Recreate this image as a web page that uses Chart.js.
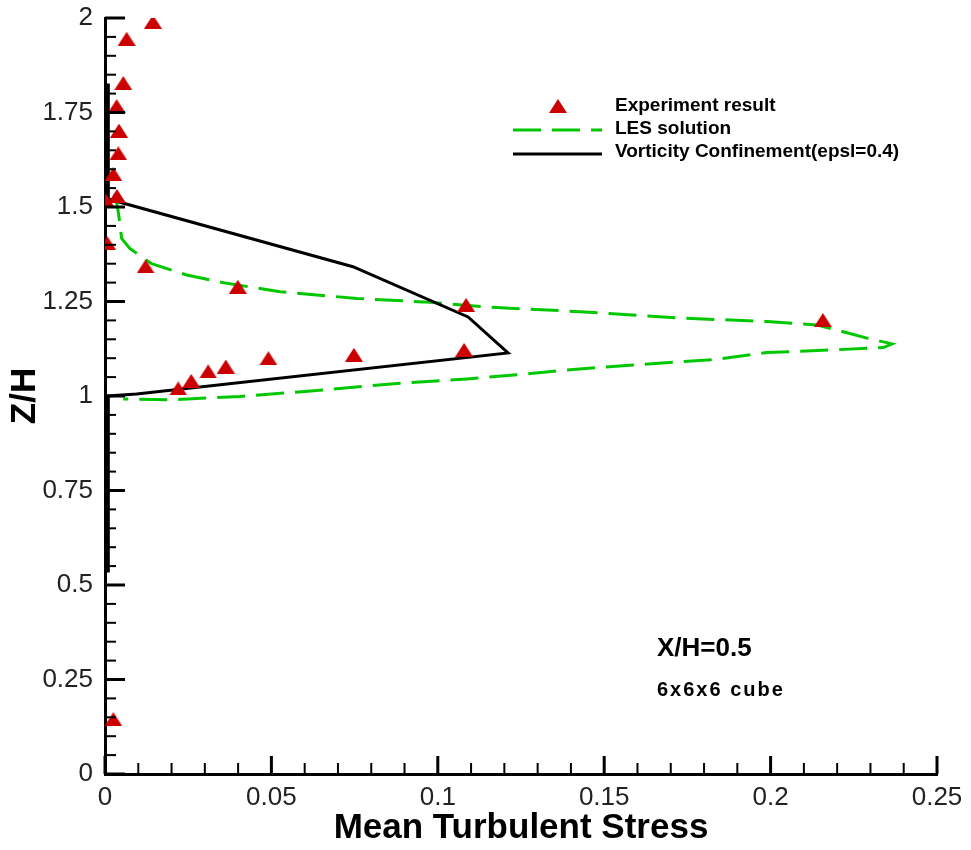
<!DOCTYPE html>
<html lang="en">
<head>
  <meta charset="utf-8">
  <script src="https://cdn.jsdelivr.net/npm/chart.js@4.4.1/dist/chart.umd.min.js"></script>
  <style>
    body {
      margin: 0;
      background: #fff;
    }

    #chart-container {
      width: 971px;
      height: 850px;
    }
  </style>
</head>
<body>
  <div id="chart-container">
    <canvas id="chart" width="971" height="850"></canvas>
  </div>

  <script>
    // experiment result (red triangles)
    const expStress = [0.0144, 0.0065, 0.0055, 0.0035, 0.0042, 0.0040, 0.0025, 0.0036, 0.0003, 0.0007,
      0.0122, 0.0399, 0.1085, 0.2157, 0.1079, 0.0748, 0.0491, 0.0363, 0.0310, 0.0259, 0.0220, 0.0025];
    const expZ = [1.990, 1.945, 1.828, 1.767, 1.702, 1.642, 1.587, 1.529, 1.516, 1.404,
      1.343, 1.289, 1.241, 1.201, 1.122, 1.109, 1.100, 1.078, 1.065, 1.040, 1.020, 0.145];

    // LES solution (green dashes)
    const lesStress = [0.003, 0.004, 0.005, 0.0075, 0.014, 0.0246, 0.0366, 0.0526, 0.0757, 0.0957,
      0.1157, 0.1428, 0.1737, 0.1989, 0.214, 0.2218, 0.229, 0.2365, 0.2339, 0.2189,
      0.1989, 0.1839, 0.1587, 0.1388, 0.1237, 0.1087, 0.0887, 0.0656, 0.0406, 0.0205, 0.0055];
    const lesZ = [1.536, 1.487, 1.417, 1.390, 1.350, 1.320, 1.298, 1.276, 1.258, 1.249,
      1.235, 1.223, 1.206, 1.197, 1.188, 1.170, 1.153, 1.138, 1.128, 1.122,
      1.115, 1.097, 1.082, 1.069, 1.056, 1.045, 1.034, 1.016, 0.999, 0.990, 0.992];

    // vorticity confinement, epsl = 0.4 (black)
    const vcStress = [0.001, 0.001, 0.0095, 0.1211, 0.1091, 0.0745, 0.001, 0.001];
    const vcZ = [0.533, 1.000, 1.005, 1.114, 1.209, 1.342, 1.521, 1.827];

    const xTicks = [0, 0.05, 0.1, 0.15, 0.2, 0.25];
    const xTickLabels = ['0', '0.05', '0.1', '0.15', '0.2', '0.25'];
    const yTicks = [0, 0.25, 0.5, 0.75, 1, 1.25, 1.5, 1.75, 2];
    const yTickLabels = ['0', '0.25', '0.5', '0.75', '1', '1.25', '1.5', '1.75', '2'];

    const FONT = "'Liberation Sans', Arial, sans-serif";
    const RED = '#cc0000';
    const GREEN = '#00c800';

    function toPoints(xs, ys) {
      return xs.map((x, i) => ({ x: x, y: ys[i] }));
    }

    // triangle marker
    const tri = document.createElement('canvas');
    tri.width = 18;
    tri.height = 14;
    const tctx = tri.getContext('2d');
    tctx.fillStyle = RED;
    tctx.beginPath();
    tctx.moveTo(9, 0);
    tctx.lineTo(18, 14);
    tctx.lineTo(0, 14);
    tctx.closePath();
    tctx.fill();

    // inward major/minor tick marks
    const axisMarks = {
      id: 'axisMarks',
      afterDraw(chart) {
        const ctx = chart.ctx;
        const xs = chart.scales.x;
        const ys = chart.scales.y;
        const area = chart.chartArea;
        ctx.save();
        ctx.strokeStyle = '#000';
        for (let i = 0; i <= 25; i++) {
          const major = i % 5 === 0;
          const px = xs.getPixelForValue(i / 100);
          ctx.lineWidth = major ? 3 : 2;
          ctx.beginPath();
          ctx.moveTo(px, area.bottom);
          ctx.lineTo(px, area.bottom - (major ? 18 : 11));
          ctx.stroke();
        }
        for (let i = 0; i <= 40; i++) {
          const major = i % 5 === 0;
          const py = ys.getPixelForValue(i * 0.05);
          ctx.lineWidth = major ? 3 : 2;
          ctx.beginPath();
          ctx.moveTo(area.left, py);
          ctx.lineTo(area.left + (major ? 20 : 11), py);
          ctx.stroke();
        }
        ctx.restore();
      }
    };

    // legend block and case notes
    const notes = {
      id: 'notes',
      afterDraw(chart) {
        const ctx = chart.ctx;
        ctx.save();
        ctx.fillStyle = '#000';
        ctx.textBaseline = 'middle';
        ctx.textAlign = 'left';
        ctx.font = 'bold 19px ' + FONT;

        ctx.drawImage(tri, 558 - 9, 106 - 7);
        ctx.fillText('Experiment result', 615, 106);

        ctx.strokeStyle = GREEN;
        ctx.lineWidth = 3;
        ctx.setLineDash([28, 11]);
        ctx.beginPath();
        ctx.moveTo(513, 130);
        ctx.lineTo(602, 130);
        ctx.stroke();
        ctx.setLineDash([]);
        ctx.fillText('LES solution', 615, 129);

        ctx.strokeStyle = '#000';
        ctx.beginPath();
        ctx.moveTo(513, 154);
        ctx.lineTo(602, 154);
        ctx.stroke();
        ctx.fillText('Vorticity Confinement(epsl=0.4)', 615, 152);

        ctx.font = 'bold 26px ' + FONT;
        ctx.fillText('X/H=0.5', 657, 649);
        ctx.font = 'bold 20px ' + FONT;
        ctx.letterSpacing = '2px';
        ctx.fillText('6x6x6 cube', 657, 690);
        ctx.restore();
      }
    };

    const ctx = document.getElementById('chart').getContext('2d');
    const chart = new Chart(ctx, {
      type: 'scatter',
      data: {
        datasets: [{
          label: 'Experiment result',
          data: toPoints(expStress, expZ),
          pointStyle: tri,
          pointRadius: 9,
          order: 0
        }, {
          label: 'Vorticity Confinement(epsl=0.4)',
          data: toPoints(vcStress, vcZ),
          showLine: true,
          borderColor: '#000',
          borderWidth: 3,
          pointRadius: 0,
          tension: 0,
          order: 1
        }, {
          label: 'LES solution',
          data: toPoints(lesStress, lesZ),
          showLine: true,
          borderColor: GREEN,
          borderWidth: 3,
          borderDash: [28, 11],
          pointRadius: 0,
          tension: 0,
          order: 2
        }]
      },
      options: {
        responsive: false,
        animation: false,
        devicePixelRatio: 1,
        layout: {
          padding: { top: 18, right: 34, left: 0, bottom: 0 }
        },
        plugins: {
          legend: { display: false },
          tooltip: { enabled: false }
        },
        scales: {
          x: {
            type: 'linear',
            min: 0,
            max: 0.25,
            afterBuildTicks: s => { s.ticks = xTicks.map(v => ({ value: v })); },
            afterFit: s => {
              s.height = 76;
              s.paddingLeft = 0;
              s.paddingRight = 0;
            },
            grid: { display: false, drawTicks: false },
            border: { display: true, color: '#000', width: 3 },
            ticks: {
              padding: 8,
              color: '#222',
              maxRotation: 0,
              font: { family: FONT, size: 26 },
              callback: (v, i) => xTickLabels[i]
            },
            title: {
              display: true,
              text: 'Mean Turbulent Stress',
              color: '#000',
              font: { family: FONT, size: 35, weight: 'bold', lineHeight: 1 },
              padding: { bottom: 4 }
            }
          },
          y: {
            type: 'linear',
            min: 0,
            max: 2,
            afterBuildTicks: s => { s.ticks = yTicks.map(v => ({ value: v })); },
            afterFit: s => {
              s.width = 105;
              s.paddingTop = 0;
              s.paddingBottom = 0;
            },
            grid: { display: false, drawTicks: false },
            border: { display: true, color: '#000', width: 3 },
            ticks: {
              padding: 12,
              color: '#222',
              font: { family: FONT, size: 26 },
              callback: (v, i) => yTickLabels[i]
            },
            title: {
              display: true,
              text: 'Z/H',
              color: '#000',
              font: { family: FONT, size: 35, weight: 'bold', lineHeight: 1 },
              padding: { top: 8 }
            }
          }
        }
      },
      plugins: [axisMarks, notes]
    });
  </script>
</body>
</html>
